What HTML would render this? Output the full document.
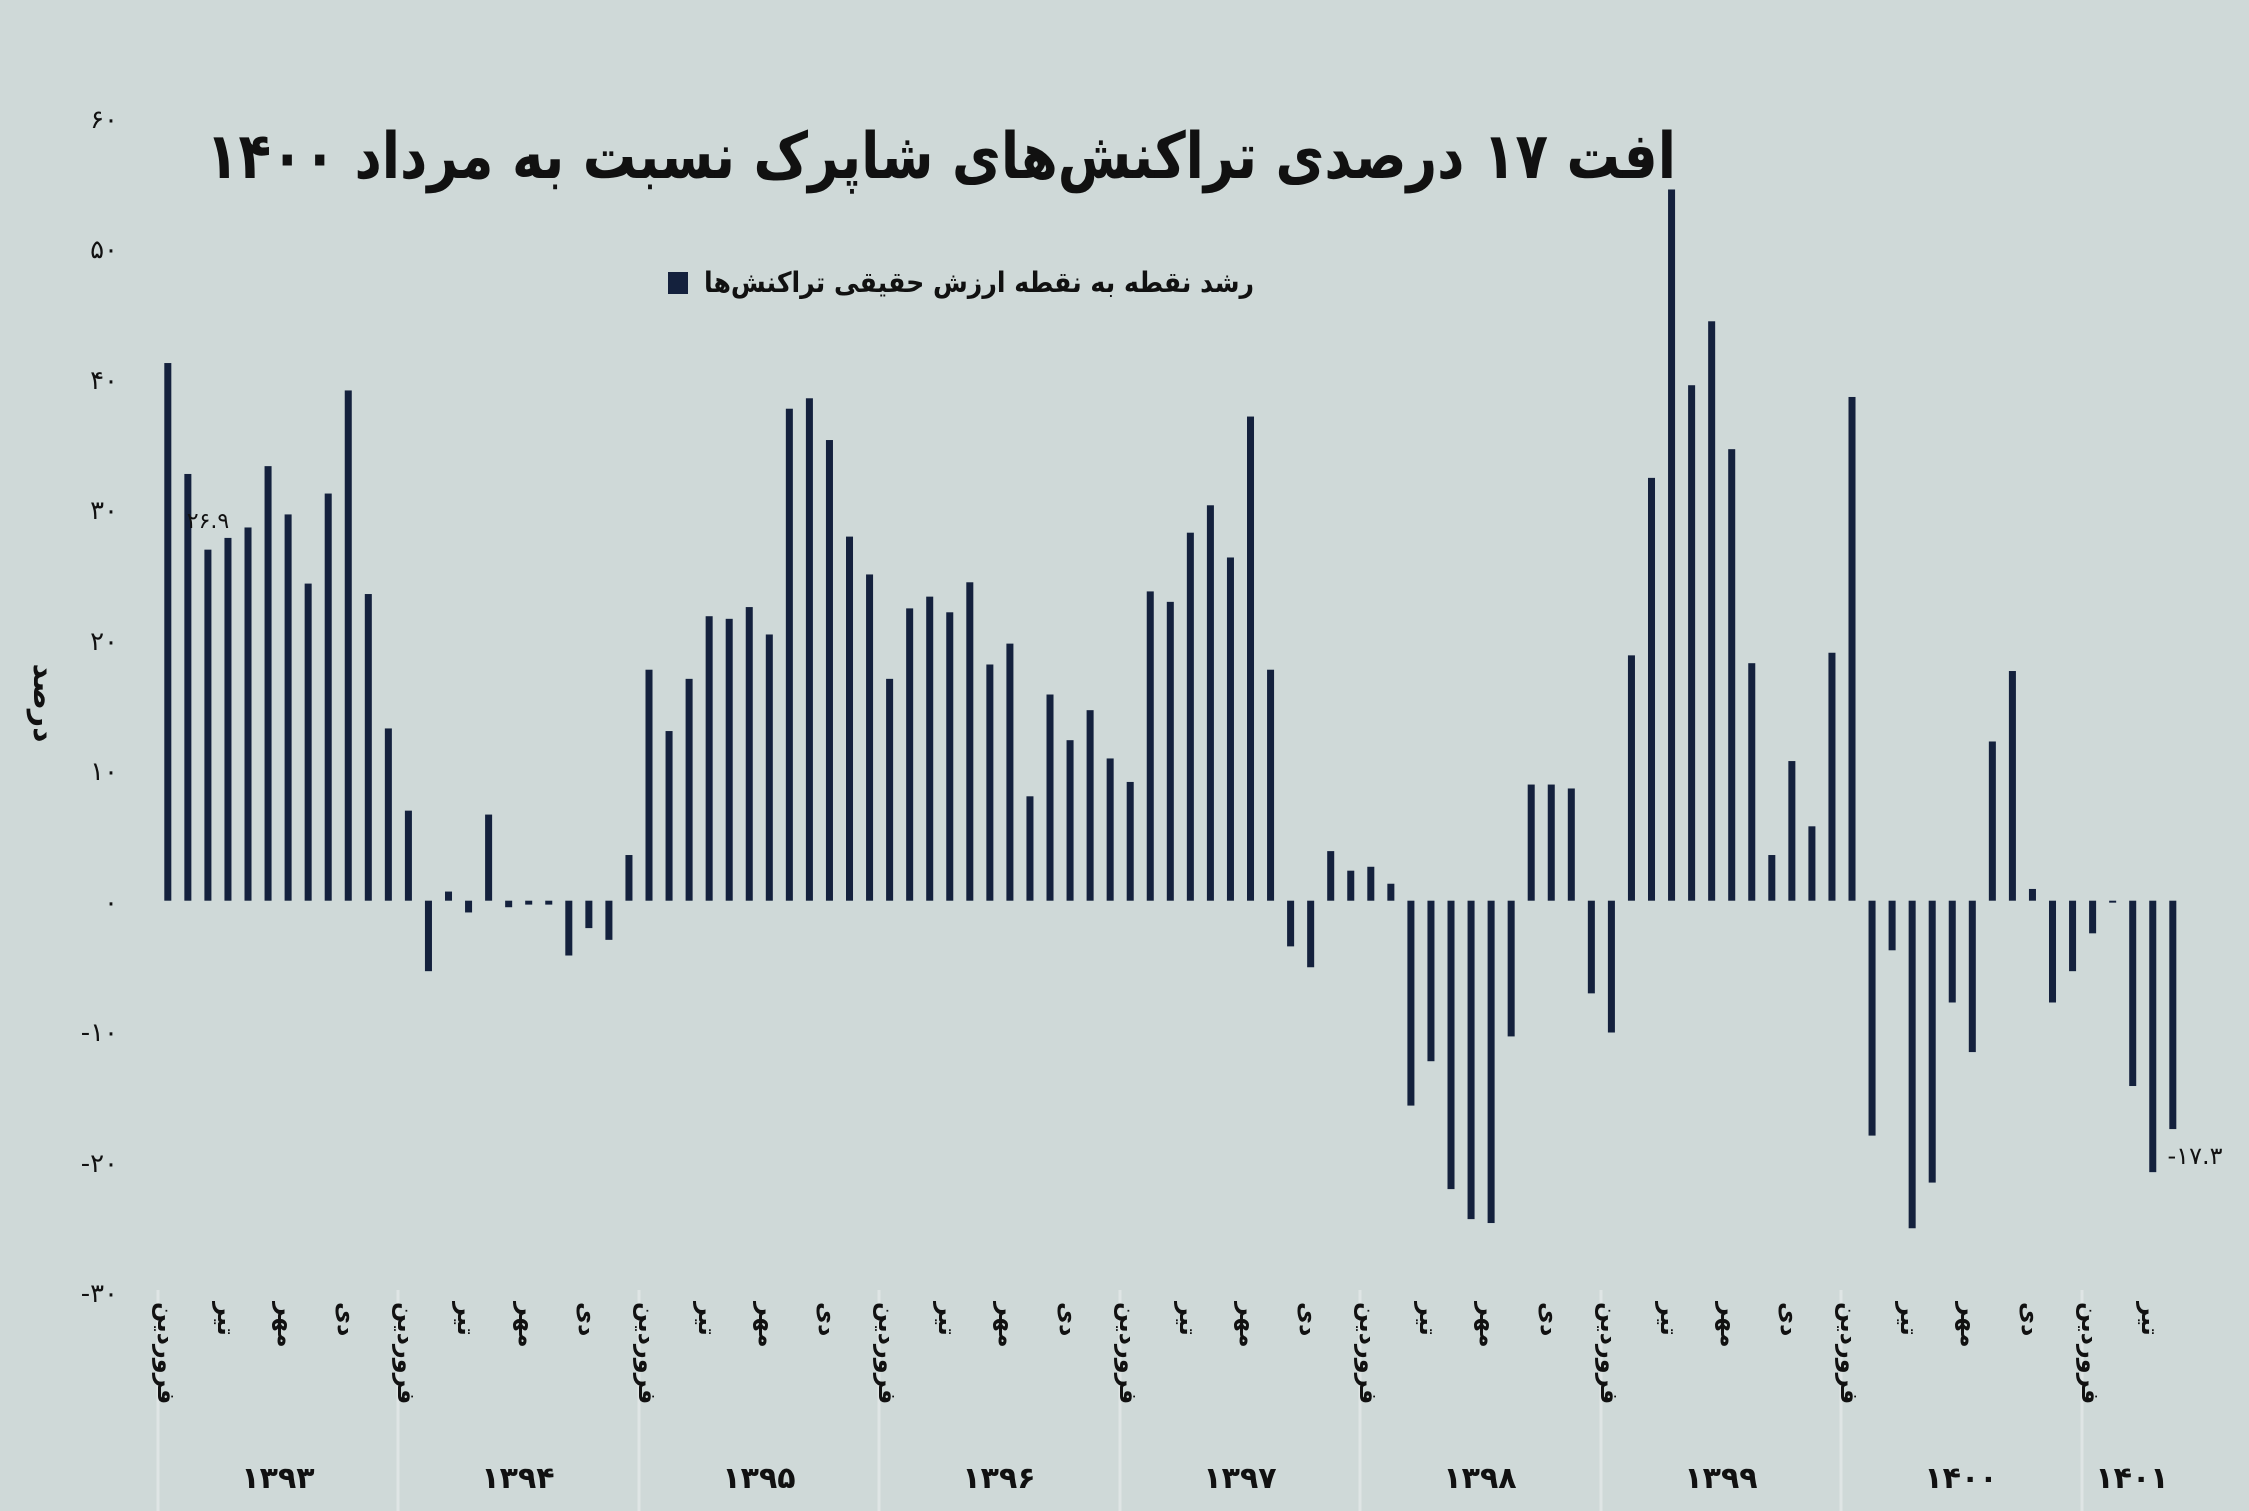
<!DOCTYPE html>
<html><head><meta charset="utf-8"><style>
html,body{margin:0;padding:0;background:#cfd9d8;}
svg{display:block;}
text{font-family:"DejaVu Sans","Liberation Sans",sans-serif;fill:#111;}
</style></head><body>
<svg width="2249" height="1511" viewBox="0 0 2249 1511" xmlns="http://www.w3.org/2000/svg">
<rect width="2249" height="1511" fill="#cfd9d8"/>
<!-- year separators -->
<g stroke="#dfe5e5" stroke-width="3">
<line x1="158" y1="1290" x2="158" y2="1511"/><line x1="398" y1="1290" x2="398" y2="1511"/>
<line x1="639" y1="1290" x2="639" y2="1511"/><line x1="879" y1="1290" x2="879" y2="1511"/>
<line x1="1120" y1="1290" x2="1120" y2="1511"/><line x1="1360" y1="1290" x2="1360" y2="1511"/>
<line x1="1601" y1="1290" x2="1601" y2="1511"/><line x1="1841" y1="1290" x2="1841" y2="1511"/>
<line x1="2082" y1="1290" x2="2082" y2="1511"/>
</g>
<!-- title -->
<text x="941" y="178" text-anchor="middle" font-size="64" font-weight="bold" textLength="1470" lengthAdjust="spacingAndGlyphs">افت ۱۷ درصدی تراکنش‌های شاپرک نسبت به مرداد ۱۴۰۰</text>
<!-- legend -->
<rect x="668" y="272" width="20" height="22" fill="#14213d"/>
<text x="979" y="292" text-anchor="middle" font-size="28" font-weight="bold" textLength="550" lengthAdjust="spacingAndGlyphs">رشد نقطه به نقطه ارزش حقیقی تراکنش‌ها</text>
<!-- y axis labels -->
<g font-size="26" text-anchor="end">
<text x="118" y="128">۶۰</text><text x="118" y="258">۵۰</text><text x="118" y="389">۴۰</text>
<text x="118" y="519">۳۰</text><text x="118" y="650">۲۰</text><text x="118" y="780">۱۰</text>
<text x="118" y="911">۰</text><text x="118" y="1041">-۱۰</text><text x="118" y="1172">-۲۰</text>
<text x="118" y="1302">-۳۰</text>
</g>
<text transform="translate(34,703) rotate(90)" text-anchor="middle" font-size="30" font-weight="bold">درصد</text>
<!-- bars -->
<g transform="translate(164.3,900.7) scale(20.05,-13.05)" fill="#14213d">
<rect x="0" y="0" width="0.35" height="41.2"/><rect x="1" y="0" width="0.35" height="32.7"/><rect x="2" y="0" width="0.35" height="26.9"/><rect x="3" y="0" width="0.35" height="27.8"/><rect x="4" y="0" width="0.35" height="28.6"/><rect x="5" y="0" width="0.35" height="33.3"/><rect x="6" y="0" width="0.35" height="29.6"/><rect x="7" y="0" width="0.35" height="24.3"/><rect x="8" y="0" width="0.35" height="31.2"/><rect x="9" y="0" width="0.35" height="39.1"/><rect x="10" y="0" width="0.35" height="23.5"/><rect x="11" y="0" width="0.35" height="13.2"/>
<rect x="12" y="0" width="0.35" height="6.9"/><rect x="13" y="-5.4" width="0.35" height="5.4"/><rect x="14" y="0" width="0.35" height="0.7"/><rect x="15" y="-0.9" width="0.35" height="0.9"/><rect x="16" y="0" width="0.35" height="6.6"/><rect x="17" y="-0.5" width="0.35" height="0.5"/><rect x="18" y="-0.3" width="0.35" height="0.3"/><rect x="19" y="-0.3" width="0.35" height="0.3"/><rect x="20" y="-4.2" width="0.35" height="4.2"/><rect x="21" y="-2.1" width="0.35" height="2.1"/><rect x="22" y="-3.0" width="0.35" height="3.0"/><rect x="23" y="0" width="0.35" height="3.5"/>
<rect x="24" y="0" width="0.35" height="17.7"/><rect x="25" y="0" width="0.35" height="13"/><rect x="26" y="0" width="0.35" height="17"/><rect x="27" y="0" width="0.35" height="21.8"/><rect x="28" y="0" width="0.35" height="21.6"/><rect x="29" y="0" width="0.35" height="22.5"/><rect x="30" y="0" width="0.35" height="20.4"/><rect x="31" y="0" width="0.35" height="37.7"/><rect x="32" y="0" width="0.35" height="38.5"/><rect x="33" y="0" width="0.35" height="35.3"/><rect x="34" y="0" width="0.35" height="27.9"/><rect x="35" y="0" width="0.35" height="25"/>
<rect x="36" y="0" width="0.35" height="17"/><rect x="37" y="0" width="0.35" height="22.4"/><rect x="38" y="0" width="0.35" height="23.3"/><rect x="39" y="0" width="0.35" height="22.1"/><rect x="40" y="0" width="0.35" height="24.4"/><rect x="41" y="0" width="0.35" height="18.1"/><rect x="42" y="0" width="0.35" height="19.7"/><rect x="43" y="0" width="0.35" height="8"/><rect x="44" y="0" width="0.35" height="15.8"/><rect x="45" y="0" width="0.35" height="12.3"/><rect x="46" y="0" width="0.35" height="14.6"/><rect x="47" y="0" width="0.35" height="10.9"/>
<rect x="48" y="0" width="0.35" height="9.1"/><rect x="49" y="0" width="0.35" height="23.7"/><rect x="50" y="0" width="0.35" height="22.9"/><rect x="51" y="0" width="0.35" height="28.2"/><rect x="52" y="0" width="0.35" height="30.3"/><rect x="53" y="0" width="0.35" height="26.3"/><rect x="54" y="0" width="0.35" height="37.1"/><rect x="55" y="0" width="0.35" height="17.7"/><rect x="56" y="-3.5" width="0.35" height="3.5"/><rect x="57" y="-5.1" width="0.35" height="5.1"/><rect x="58" y="0" width="0.35" height="3.8"/><rect x="59" y="0" width="0.35" height="2.3"/>
<rect x="60" y="0" width="0.35" height="2.6"/><rect x="61" y="0" width="0.35" height="1.3"/><rect x="62" y="-15.7" width="0.35" height="15.7"/><rect x="63" y="-12.3" width="0.35" height="12.3"/><rect x="64" y="-22.1" width="0.35" height="22.1"/><rect x="65" y="-24.4" width="0.35" height="24.4"/><rect x="66" y="-24.7" width="0.35" height="24.7"/><rect x="67" y="-10.4" width="0.35" height="10.4"/><rect x="68" y="0" width="0.35" height="8.9"/><rect x="69" y="0" width="0.35" height="8.9"/><rect x="70" y="0" width="0.35" height="8.6"/><rect x="71" y="-7.1" width="0.35" height="7.1"/>
<rect x="72" y="-10.1" width="0.35" height="10.1"/><rect x="73" y="0" width="0.35" height="18.8"/><rect x="74" y="0" width="0.35" height="32.4"/><rect x="75" y="0" width="0.35" height="54.5"/><rect x="76" y="0" width="0.35" height="39.5"/><rect x="77" y="0" width="0.35" height="44.4"/><rect x="78" y="0" width="0.35" height="34.6"/><rect x="79" y="0" width="0.35" height="18.2"/><rect x="80" y="0" width="0.35" height="3.5"/><rect x="81" y="0" width="0.35" height="10.7"/><rect x="82" y="0" width="0.35" height="5.7"/><rect x="83" y="0" width="0.35" height="19"/>
<rect x="84" y="0" width="0.35" height="38.6"/><rect x="85" y="-18" width="0.35" height="18"/><rect x="86" y="-3.8" width="0.35" height="3.8"/><rect x="87" y="-25.1" width="0.35" height="25.1"/><rect x="88" y="-21.6" width="0.35" height="21.6"/><rect x="89" y="-7.8" width="0.35" height="7.8"/><rect x="90" y="-11.6" width="0.35" height="11.6"/><rect x="91" y="0" width="0.35" height="12.2"/><rect x="92" y="0" width="0.35" height="17.6"/><rect x="93" y="0" width="0.35" height="0.9"/><rect x="94" y="-7.8" width="0.35" height="7.8"/><rect x="95" y="-5.4" width="0.35" height="5.4"/>
<rect x="96" y="-2.5" width="0.35" height="2.5"/><rect x="97" y="-0.15" width="0.35" height="0.15"/><rect x="98" y="-14.2" width="0.35" height="14.2"/><rect x="99" y="-20.8" width="0.35" height="20.8"/><rect x="100" y="-17.5" width="0.35" height="17.5"/>
</g>
<!-- data labels -->
<text x="208" y="528" text-anchor="middle" font-size="22">۲۶.۹</text>
<text x="2195" y="1164" text-anchor="middle" font-size="24">-۱۷.۳</text>
<!-- month labels: vertical -->
<g font-size="24" font-weight="bold">
<text transform="translate(158,1302) rotate(90)">فروردین</text><text transform="translate(218,1302) rotate(90)">تیر</text><text transform="translate(278,1302) rotate(90)">مهر</text><text transform="translate(338,1302) rotate(90)">دی</text>
<text transform="translate(398,1302) rotate(90)">فروردین</text><text transform="translate(458,1302) rotate(90)">تیر</text><text transform="translate(519,1302) rotate(90)">مهر</text><text transform="translate(579,1302) rotate(90)">دی</text>
<text transform="translate(639,1302) rotate(90)">فروردین</text><text transform="translate(699,1302) rotate(90)">تیر</text><text transform="translate(759,1302) rotate(90)">مهر</text><text transform="translate(819,1302) rotate(90)">دی</text>
<text transform="translate(879,1302) rotate(90)">فروردین</text><text transform="translate(939,1302) rotate(90)">تیر</text><text transform="translate(999,1302) rotate(90)">مهر</text><text transform="translate(1060,1302) rotate(90)">دی</text>
<text transform="translate(1120,1302) rotate(90)">فروردین</text><text transform="translate(1180,1302) rotate(90)">تیر</text><text transform="translate(1240,1302) rotate(90)">مهر</text><text transform="translate(1300,1302) rotate(90)">دی</text>
<text transform="translate(1360,1302) rotate(90)">فروردین</text><text transform="translate(1420,1302) rotate(90)">تیر</text><text transform="translate(1480,1302) rotate(90)">مهر</text><text transform="translate(1541,1302) rotate(90)">دی</text>
<text transform="translate(1601,1302) rotate(90)">فروردین</text><text transform="translate(1661,1302) rotate(90)">تیر</text><text transform="translate(1721,1302) rotate(90)">مهر</text><text transform="translate(1781,1302) rotate(90)">دی</text>
<text transform="translate(1841,1302) rotate(90)">فروردین</text><text transform="translate(1901,1302) rotate(90)">تیر</text><text transform="translate(1961,1302) rotate(90)">مهر</text><text transform="translate(2022,1302) rotate(90)">دی</text>
<text transform="translate(2082,1302) rotate(90)">فروردین</text><text transform="translate(2142,1302) rotate(90)">تیر</text>
</g>
<!-- year labels -->
<g font-size="30" font-weight="bold" text-anchor="middle">
<text x="278" y="1488">۱۳۹۳</text><text x="518" y="1488">۱۳۹۴</text><text x="759" y="1488">۱۳۹۵</text>
<text x="999" y="1488">۱۳۹۶</text><text x="1240" y="1488">۱۳۹۷</text><text x="1480" y="1488">۱۳۹۸</text>
<text x="1721" y="1488">۱۳۹۹</text><text x="1961" y="1488">۱۴۰۰</text><text x="2132" y="1488">۱۴۰۱</text>
</g>
</svg>
</body></html>
